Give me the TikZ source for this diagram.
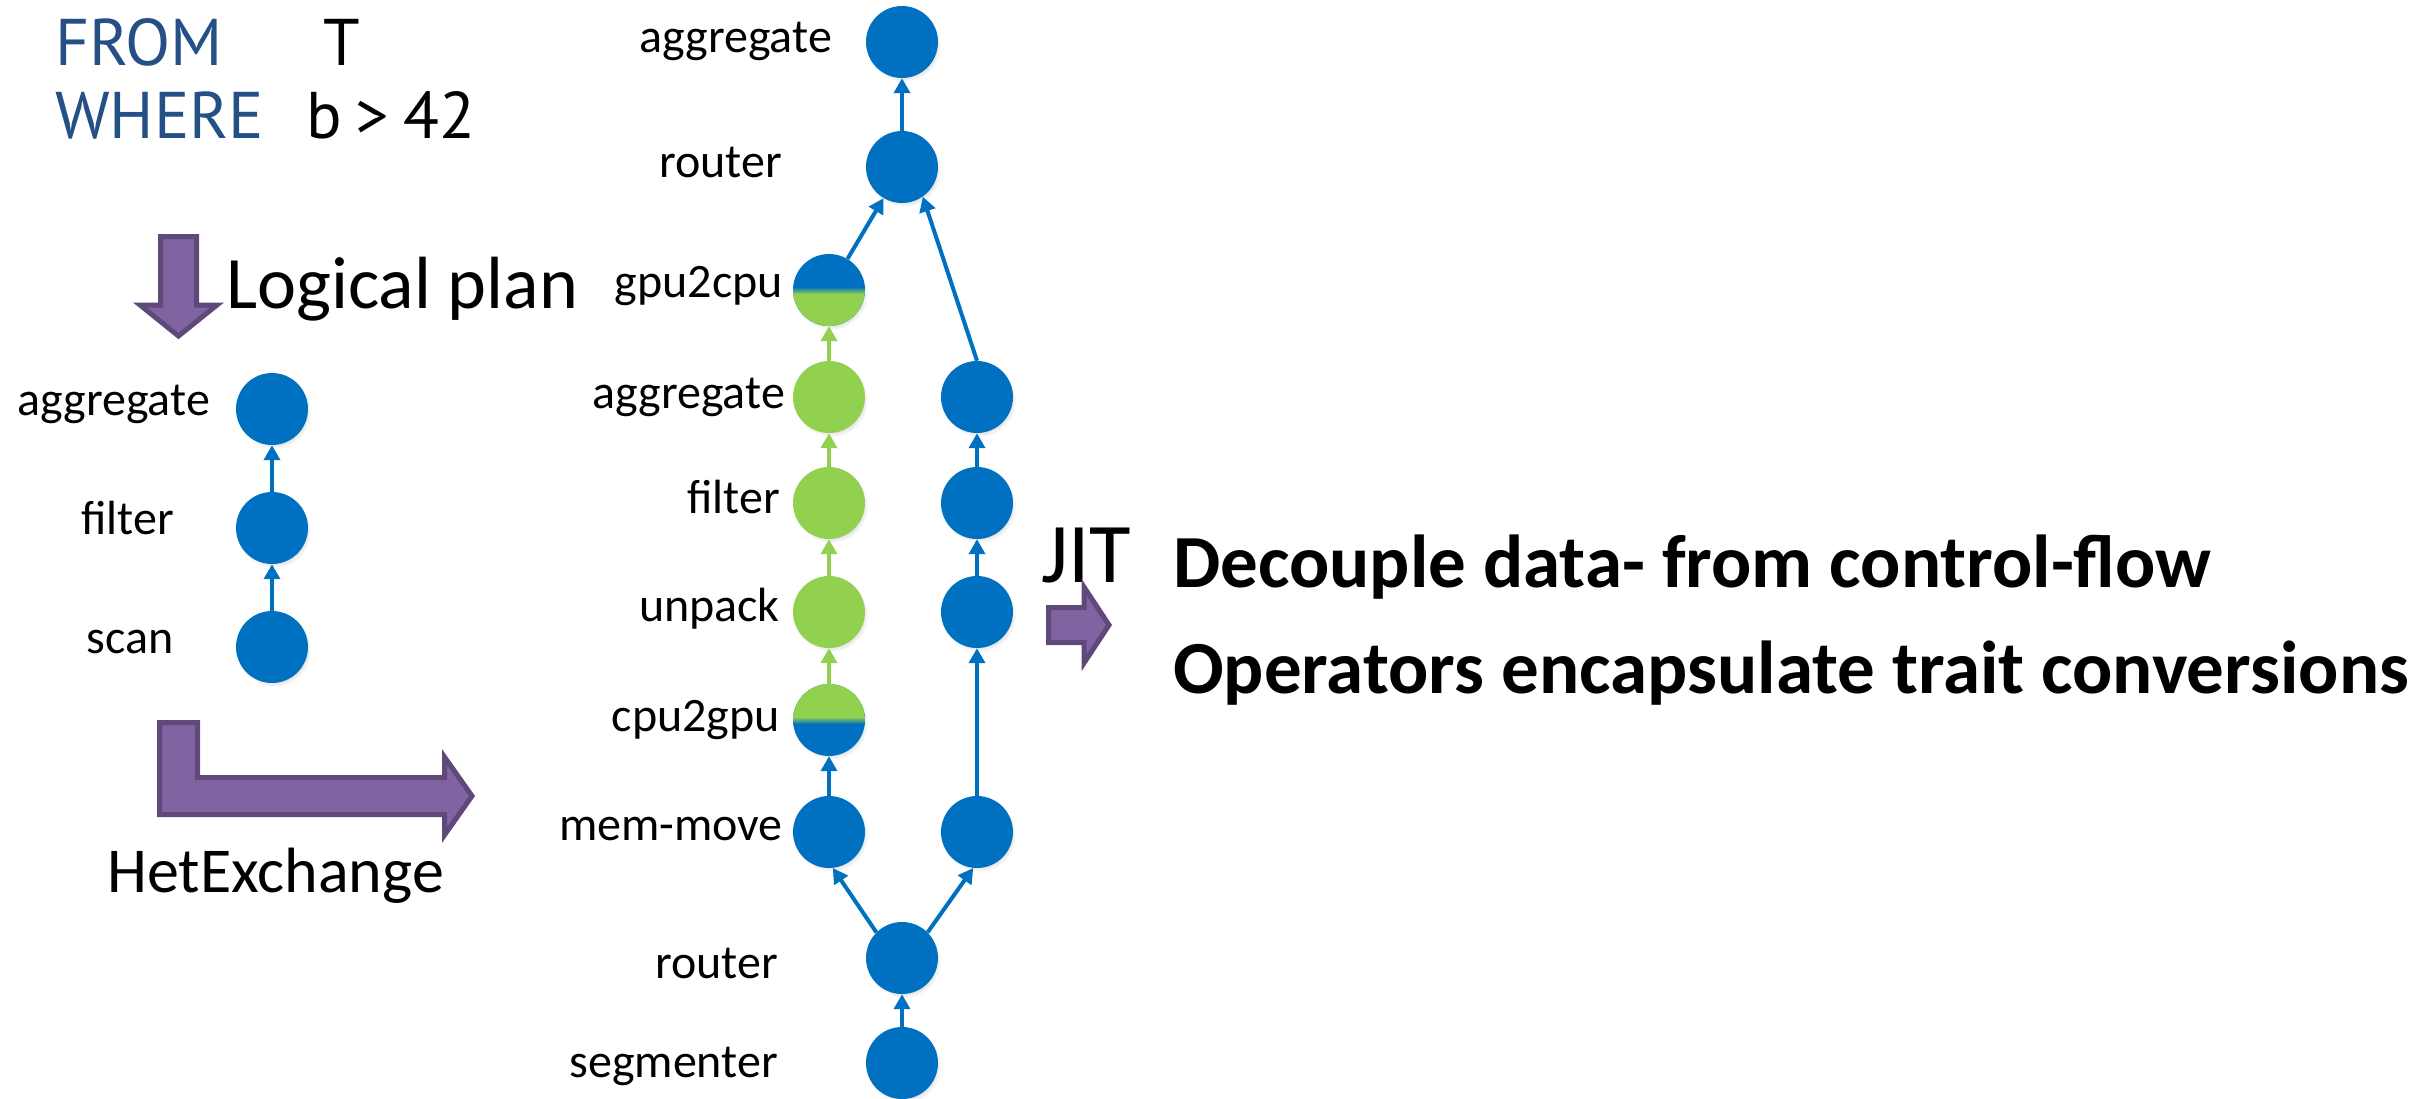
\documentclass[tikz,border=0pt]{standalone}
\usepackage{fontspec}
\setmainfont{Carlito}
\newfontfamily\sqlfont{PT Sans}
\usetikzlibrary{arrows.meta,shadows}

\definecolor{opblue}{RGB}{0,112,192}
\definecolor{opgreen}{RGB}{146,208,80}
\definecolor{arrowfill}{RGB}{128,100,162}
\definecolor{arrowedge}{RGB}{94,73,122}
\definecolor{sqlblue}{RGB}{36,80,134}

\tikzset{
  op/.style={circle, minimum size=72pt, inner sep=0pt, fill=opblue,
    circular drop shadow={shadow xshift=2pt, shadow yshift=-3pt, opacity=0.22, shadow scale=1.03}},
  lbl/.style={anchor=base east, inner sep=0pt, font=\fontsize{48}{58}\selectfont},
  link/.style={line width=4pt, draw=opblue, -{Triangle[length=15pt,width=16pt]}},
  glink/.style={link, draw=opgreen},
  blockarrow/.style={fill=arrowfill, draw=arrowedge, line width=5pt, line join=miter},
  bigtxt/.style={anchor=base west, inner sep=0pt},
  sqltxt/.style={bigtxt, font=\sqlfont\fontsize{66}{80}\selectfont},
}

\begin{document}
\begin{tikzpicture}[x=1pt,y=-1pt]
\useasboundingbox (0,0) rectangle (2430,1098);

% query text
\node[sqltxt, text=sqlblue] (qfrom) at (55,65) {FROM};
\node[sqltxt] (qtab) at (323,65) {T};
\node[sqltxt, text=sqlblue] (qwhere) at (55,138) {WHERE};
\node[sqltxt] (qcond) at (306,138) {b\hspace{14pt}>\hspace{14pt}42};

% logical plan step
\draw[blockarrow] (160.5,236.5) -- (196.5,236.5) -- (196.5,305) -- (217,305)
  -- (178.5,336) -- (140,305) -- (160.5,305) -- cycle;
\node[bigtxt, font=\fontsize{74}{88}\selectfont] (tlogical) at (226,308) {Logical plan};

% logical plan operators
\node[op] (lagg) at (272,409) {};
\node[op] (lfil) at (272,528) {};
\node[op] (lscan) at (272,647) {};
\node[lbl] (tlagg) at (210,415) {aggregate};
\node[lbl] (tlfil) at (174,534) {filter};
\node[lbl] (tlscan) at (174,653) {scan};
\draw[link] (lscan) -- (lfil);
\draw[link] (lfil) -- (lagg);

% HetExchange step
\draw[blockarrow] (159.5,722.5) -- (197.5,722.5) -- (197.5,777.5) -- (444.5,777.5)
  -- (444.5,757) -- (472,796) -- (444.5,835) -- (444.5,814.5) -- (159.5,814.5) -- cycle;
\node[bigtxt, font=\fontsize{64}{76}\selectfont] (thet) at (107,892) {HetExchange};

% heterogeneous plan operators
\node[op] (atop) at (902,42) {};
\node[op] (rtop) at (902,167) {};
\node[op, path picture={
    \fill[opgreen] (path picture bounding box.south west) rectangle ([yshift=-4pt]path picture bounding box.east);
    \shade[top color=opblue, bottom color=opgreen] ([yshift=3pt]path picture bounding box.west) rectangle ([yshift=-4pt]path picture bounding box.east);
  }] (g2c) at (829,290) {};
\node[op, fill=opgreen] (gagg) at (829,397) {};
\node[op, fill=opgreen] (gfil) at (829,503) {};
\node[op, fill=opgreen] (gunp) at (829,612) {};
\node[op, path picture={
    \fill[opgreen] (path picture bounding box.north west) rectangle ([yshift=3pt]path picture bounding box.east);
    \shade[top color=opgreen, bottom color=opblue] ([yshift=3pt]path picture bounding box.west) rectangle ([yshift=-4pt]path picture bounding box.east);
  }] (c2g) at (829,720) {};
\node[op] (mm) at (829,832) {};
\node[op] (ragg) at (977,397) {};
\node[op] (rfil) at (977,503) {};
\node[op] (runp) at (977,612) {};
\node[op] (rmm) at (977,832) {};
\node[op] (rbot) at (902,958) {};
\node[op] (seg) at (902,1063) {};

\node[lbl] (tatop) at (832,52) {aggregate};
\node[lbl] (trtop) at (782,177) {router};
\node[lbl] (tg2c) at (783,297) {gpu2cpu};
\node[lbl] (tgagg) at (785,408) {aggregate};
\node[lbl] (tgfil) at (780,513) {filter};
\node[lbl] (tgunp) at (780,621) {unpack};
\node[lbl] (tc2g) at (780,731) {cpu2gpu};
\node[lbl] (tmm) at (783,840) {mem-move};
\node[lbl] (trbot) at (778,978) {router};
\node[lbl] (tseg) at (778,1077) {segmenter};

\draw[link] (seg) -- (rbot);
\draw[link] (rbot.135) -- (mm.-84);
\draw[link] (rbot.45) -- (rmm.-96);
\draw[link] (mm) -- (c2g);
\draw[glink] (c2g) -- (gunp);
\draw[glink] (gunp) -- (gfil);
\draw[glink] (gfil) -- (gagg);
\draw[glink] (gagg) -- (g2c);
\draw[link] (g2c) -- (rtop);
\draw[link] (rmm) -- (runp);
\draw[link] (runp) -- (rfil);
\draw[link] (rfil) -- (ragg);
\draw[link] (ragg.north) -- (rtop.-55);
\draw[link] (rtop) -- (atop);

% code generation step
\node[bigtxt, font=\fontsize{85}{100}\selectfont] (tjit) at (1041,582) {JIT};
\draw[blockarrow] (1048.5,607.5) -- (1084,607.5) -- (1084,587) -- (1109,625)
  -- (1084,663) -- (1084,642.5) -- (1048.5,642.5) -- cycle;

\node[bigtxt, font=\bfseries\fontsize{75}{88}\selectfont] (tdecouple) at (1173,587) {Decouple data- from control-flow};
\node[bigtxt, font=\bfseries\fontsize{75}{88}\selectfont] (toperators) at (1173,693) {Operators encapsulate trait conversions};
\end{tikzpicture}
\end{document}
